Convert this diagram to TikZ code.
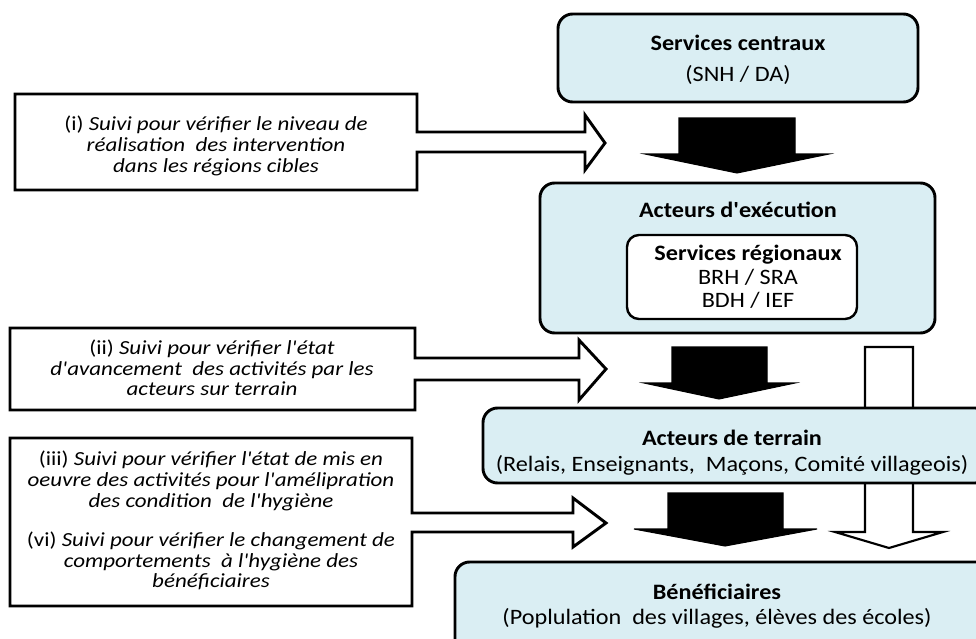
\documentclass[tikz,border=0pt]{standalone}
\usepackage{fontspec}
\setmainfont{Carlito}
\newfontfamily\policecadre{Carlito}[FakeStretch=1.1]
\newfontfamily\policeappel{Carlito}[FakeStretch=1.15]
\definecolor{bleuclair}{HTML}{DAEEF3}
\begin{document}
\begin{tikzpicture}[x=0.75pt,y=-0.75pt,
   cadre/.style={draw=black,line width=2.2pt,fill=bleuclair,rounded corners=11pt},
   interne/.style={draw=black,line width=1.8pt,fill=white,rounded corners=9pt},
   appel/.style={draw=black,line width=2.2pt,fill=white},
   pleine/.style={draw=black,line width=0.8pt,fill=black},
   vide/.style={draw=black,line width=1.6pt,fill=white},
   txt/.style={align=center,inner sep=0pt,font=\policecadre\fontsize{16.5}{17.6}\selectfont},
   suivi/.style={align=center,inner sep=0pt,font=\policeappel\fontsize{15}{15.5}\selectfont}]
   \clip (0,0) rectangle (976,639);
   % fleche blanche derriere les acteurs de terrain
   \draw[vide] (865,347) -- (913,347) -- (913,532) -- (943,532) -- (889,548)
      -- (835,532) -- (865,532) -- cycle;
   % niveaux
   \node[cadre,minimum width=270pt,minimum height=66pt] (central) at (738,58) {};
   \node[txt] (centralT) at (738,43) {\textbf{Services centraux}};
   \node[txt] (centralS) at (738,75) {(SNH / DA)};
   \node[cadre,minimum width=296.25pt,minimum height=112.5pt] (execution) at (737.5,258) {};
   \node[txt] (executionT) at (738,210) {\textbf{Acteurs d'exécution}};
   \node[interne,minimum width=172.5pt,minimum height=63pt] (regional) at (742,277) {};
   \node[txt] (regionalT) at (748,277) {\textbf{Services régionaux}\\BRH / SRA\\BDH / IEF};
   \node[cadre,minimum width=380.25pt,minimum height=56.25pt] (terrain) at (736.5,445.5) {};
   \node[txt] (terrainT) at (732,438) {\textbf{Acteurs de terrain}};
   \node[txt] (terrainS) at (732,465) {(Relais, Enseignants,\ \ Maçons, Comité villageois)};
   \node[cadre,minimum width=405pt,minimum height=73.5pt] (benef) at (725,611) {};
   \node[txt] (benefT) at (717,592) {\textbf{Bénéficiaires}};
   \node[txt] (benefS) at (717,618) {(Poplulation\ \ des villages, élèves des écoles)};
   % fleches pleines
   \draw[pleine] (679,118) -- (795,118) -- (795,154) -- (829,154) -- (737,173)
      -- (645,154) -- (679,154) -- cycle;
   \draw[pleine] (672,347) -- (767,347) -- (767,383) -- (795,383) -- (719,399)
      -- (644,383) -- (672,383) -- cycle;
   \draw[pleine] (668,493) -- (783,493) -- (783,529) -- (817,529) -- (725,546)
      -- (634,529) -- (668,529) -- cycle;
   % suivis
   \draw[appel] (15,94) -- (417,94) -- (417,132) -- (585,132) -- (585,115) -- (605,143)
      -- (585,170) -- (585,152) -- (417,152) -- (417,190) -- (15,190) -- cycle;
   \node[suivi] (suivi1) at (216,146) {(i) \textit{Suivi pour vérifier le niveau de}\\
      \textit{réalisation\ \ des intervention}\\\textit{dans les régions cibles}};
   \draw[appel] (10,328) -- (415,328) -- (415,358) -- (579,358) -- (579,340) -- (606,369)
      -- (579,400) -- (579,380) -- (415,380) -- (415,410) -- (10,410) -- cycle;
   \node[suivi] (suivi2) at (212,368) {(ii) \textit{Suivi pour vérifier l'état}\\
      \textit{d'avancement\ \ des activités par les}\\\textit{acteurs sur terrain}};
   \draw[appel] (10,438) -- (412,438) -- (412,513) -- (573,513) -- (573,498) -- (606,523)
      -- (573,547) -- (573,532) -- (412,532) -- (412,606) -- (10,606) -- cycle;
   \node[suivi] (suivi3) at (211,481) {(iii) \textit{Suivi pour vérifier l'état de mis en}\\
      \textit{oeuvre des activités pour l'amélipration}\\\textit{des condition\ \ de l'hygiène}};
   \node[suivi] (suivi4) at (211,561) {(vi) \textit{Suivi pour vérifier le changement de}\\
      \textit{comportements\ \ à l'hygiène des}\\\textit{bénéficiaires}};
\end{tikzpicture}
\end{document}
